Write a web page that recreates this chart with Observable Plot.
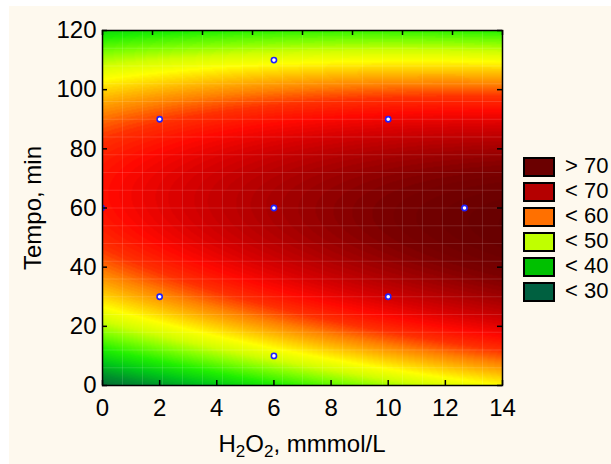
<!DOCTYPE html>
<html>
<head>
<meta charset="utf-8">
<script src="https://cdn.jsdelivr.net/npm/d3@7"></script>
<script src="https://cdn.jsdelivr.net/npm/@observablehq/plot@0.6"></script>
<style>
  body { margin: 0; background: #ffffff; font-family: "Liberation Sans", Arial, sans-serif; }
  #wrap { position: relative; width: 611px; height: 464px; overflow: hidden; }
  #bg { position: absolute; left: 9px; top: 6px; right: 0; bottom: 0; background: #fef9ee; }
  #chart { position: absolute; left: 0; top: 0; }
  #legend { position: absolute; left: 523px; top: 154px; width: 88px; }
  .item { display: flex; align-items: center; height: 25px; white-space: nowrap; }
  .item .sw { flex: none; width: 28px; height: 16px; border: 2px solid #000; }
  .item .lab { flex: none; margin-left: 10px; font-size: 22px; color: #000; line-height: 20px; margin-top: -2px; white-space: nowrap; }
</style>
</head>
<body>
<div id="wrap">
  <div id="bg"></div>
  <div id="chart"></div>
  <div id="legend"></div>
</div>
<script>
// ---- data ----
const xTicks = [0, 2, 4, 6, 8, 10, 12, 14];
const yTicks = [0, 20, 40, 60, 80, 100, 120];
const topTicks = [0, 1.75, 3.5, 5.25, 7, 8.75, 10.5, 12.25, 14];
// fitted quadratic response surface: 1, x, x^2, y, y^2, xy
const surfaceCoef = [28.545, 2.0115, -0.0343, 1.014, -0.0078, -0.0115];
// experimental design points
const designX = [2, 2, 6, 6, 6, 10, 10, 12.67, -0.03];
const designY = [30, 90, 10, 60, 110, 30, 90, 60, 60];
// colour ramp of the surface
const colorValues = [27, 32, 36, 40, 44, 47, 50, 53, 56, 59, 62, 65, 68, 71, 74];
const colorStops = ["#0a5a38", "#00902c", "#00c818", "#20f000", "#80ff00", "#d0ff00", "#ffff00", "#ffc000",
                    "#ff8000", "#ff3000", "#ff0800", "#d40000", "#a80000", "#7a0000", "#600000"];
// legend
const legendLabels = ["> 70", "< 70", "< 60", "< 50", "< 40", "< 30"];
const legendColors = ["#6b0000", "#b40000", "#ff7000", "#c0ff00", "#00c000", "#006040"];
// faint rendering mesh of the surface
const meshX = [0.7, 1.4, 2.1, 2.8, 3.5, 4.2, 4.9, 5.6, 6.3, 7, 7.7, 8.4, 9.1, 9.8, 10.5, 11.2, 11.9, 12.6, 13.3];
const meshY = [6, 12, 18, 24, 30, 36, 42, 48, 54, 60, 66, 72, 78, 84, 90, 96, 102, 108, 114];

const surface = (x, y) => {
  const c = surfaceCoef;
  return c[0] + c[1] * x + c[2] * x * x + c[3] * y + c[4] * y * y + c[5] * x * y;
};
const design = designX.map((x, i) => ({x, y: designY[i]}));

const chart = Plot.plot({
  width: 611,
  height: 464,
  marginLeft: 102,
  marginRight: 109,
  marginTop: 30,
  marginBottom: 79,
  style: { background: "transparent", fontFamily: "Liberation Sans, Arial, sans-serif", color: "#000" },
  x: { domain: [0, 14] },
  y: { domain: [0, 120] },
  color: { type: "linear", domain: colorValues, range: colorStops, clamp: true },
  marks: [
    Plot.raster({ x1: 0, x2: 14, y1: 0, y2: 120, fill: (x, y) => Math.round(surface(x, y) * 2) / 2, pixelSize: 1 }),
    Plot.ruleX(meshX, { x: d => d, stroke: "white", strokeOpacity: 0.13 }),
    Plot.ruleY(meshY, { y: d => d, stroke: "white", strokeOpacity: 0.13 }),
    Plot.dot(design, { x: "x", y: "y", r: 2.6, fill: "white", stroke: "#1f1fff", strokeWidth: 1.6, clip: true }),
    Plot.tickX(xTicks, { x: d => d, insetTop: 350, stroke: "#000", strokeWidth: 1.5 }),
    Plot.tickX(topTicks, { x: d => d, insetBottom: 350, stroke: "#000", strokeWidth: 1.5 }),
    Plot.tickY(yTicks, { y: d => d, insetRight: 395, stroke: "#000", strokeWidth: 1.5 }),
    Plot.tickY(yTicks, { y: d => d, insetLeft: 395, stroke: "#000", strokeWidth: 1.5 }),
    Plot.frame({ stroke: "#000", strokeWidth: 1.5 }),
    Plot.axisX({ ticks: xTicks, tickSize: 0, tickPadding: 13, fontSize: 24, label: null }),
    Plot.axisY({ ticks: yTicks, tickSize: 0, tickPadding: 6, fontSize: 24, label: null }),
    Plot.text(["Tempo, min"], { frameAnchor: "left", dx: -69, rotate: -90, fontSize: 24, textAnchor: "middle", fill: "#000" })
  ]
});
document.getElementById("chart").appendChild(chart);

// x axis title with subscripts
const xr = chart.scale("x").range;
const t = d3.select(chart).append("text")
  .attr("x", (xr[0] + xr[1]) / 2)
  .attr("y", 452)
  .attr("text-anchor", "middle")
  .attr("font-size", 24)
  .attr("fill", "#000");
t.append("tspan").text("H");
t.append("tspan").attr("font-size", 17).attr("dy", 5).text("2");
t.append("tspan").attr("dy", -5).text("O");
t.append("tspan").attr("font-size", 17).attr("dy", 5).text("2");
t.append("tspan").attr("dy", -5).text(", mmmol/L");

// legend
const leg = d3.select("#legend");
legendLabels.forEach((lab, i) => {
  const it = leg.append("div").attr("class", "item");
  it.append("div").attr("class", "sw").style("background", legendColors[i]);
  it.append("div").attr("class", "lab").text(lab);
});
</script>
</body>
</html>
